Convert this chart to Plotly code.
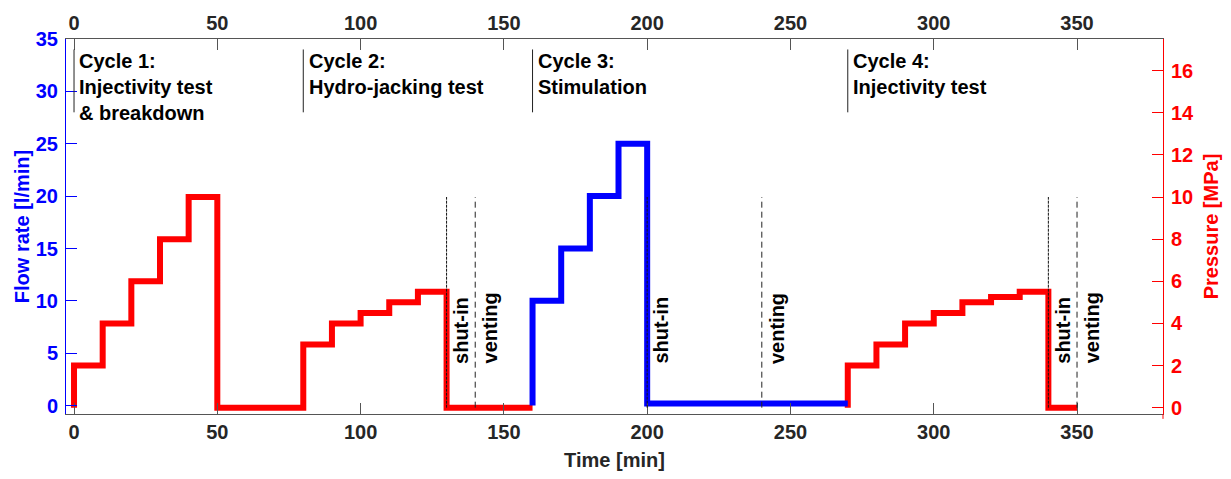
import plotly.graph_objects as go

# ---------------- data ----------------
# Pressure (MPa), cycles 1-2 (step, held until next time)
p1_time = [0, 0, 10, 20, 30, 40, 50, 80, 90, 100, 110, 120, 130, 160]
p1_pres = [0, 2, 4, 6, 8, 10, 0, 3, 4, 4.5, 5, 5.5, 0, 0]
# Flow rate (l/min), cycle 3
f3_time = [160, 160, 170, 180, 190, 200, 270]
f3_flow = [0, 10, 15, 20, 25, 0.2, 0.2]
# Pressure (MPa), cycle 4
p4_time = [270, 270, 280, 290, 300, 310, 320, 330, 340, 350]
p4_pres = [0, 2, 3, 4, 4.5, 5, 5.25, 5.5, 0, 0]

cycle_starts = [0, 80, 160, 270]
cycle_labels = ["Cycle 1:<br>Injectivity test<br>& breakdown",
                "Cycle 2:<br>Hydro-jacking test",
                "Cycle 3:<br>Stimulation",
                "Cycle 4:<br>Injectivity test"]
shutin_times = [130, 200, 340]
venting_times = [140, 240, 350]

x_ticks = [0, 50, 100, 150, 200, 250, 300, 350]
flow_ticks = [0, 5, 10, 15, 20, 25, 30, 35]
pres_ticks = [0, 2, 4, 6, 8, 10, 12, 14, 16]

# ---------------- style ----------------
FONT = "Liberation Sans, Arial, sans-serif"
BLUE = "#0000FF"
RED = "#FF0000"
DARK = "#262626"
AXIS = "#555555"
FS = 20

def f(color, size=FS):
    return dict(family=FONT, size=size, color=color, weight="bold")

fig = go.Figure()

fig.add_trace(go.Scatter(x=p1_time, y=p1_pres, mode="lines", line=dict(color=RED, width=6, shape="hv"),
                         xaxis="x", yaxis="y", showlegend=False, hoverinfo="skip"))
fig.add_trace(go.Scatter(x=p4_time, y=p4_pres, mode="lines", line=dict(color=RED, width=6, shape="hv"),
                         xaxis="x", yaxis="y", showlegend=False, hoverinfo="skip"))
fig.add_trace(go.Scatter(x=f3_time, y=f3_flow, mode="lines", line=dict(color=BLUE, width=6, shape="hv"),
                         xaxis="x", yaxis="y2", showlegend=False, hoverinfo="skip"))
# invisible trace so the top axis is drawn
fig.add_trace(go.Scatter(x=[x_ticks[0]], y=[pres_ticks[0]], mode="markers", marker=dict(opacity=0),
                         xaxis="x2", yaxis="y", showlegend=False, hoverinfo="skip"))

shapes = []
annotations = []
for t, lab in zip(cycle_starts, cycle_labels):
    shapes.append(dict(type="line", xref="x", yref="y2", x0=t, x1=t, y0=28, y1=34,
                       line=dict(color="#222222", width=1)))
    annotations.append(dict(x=t + 1.2, y=34.1, xref="x", yref="y2", text=lab, showarrow=False,
                            xanchor="left", yanchor="top", align="left", font=f("black")))
for t in shutin_times:
    shapes.append(dict(type="line", xref="x", yref="y", x0=t, x1=t, y0=0, y1=10,
                       line=dict(color="#111111", width=1, dash="3px,1px")))
    annotations.append(dict(x=t + 5.0, y=2.0, xref="x", yref="y", text="shut-in", showarrow=False,
                            textangle=-90, xanchor="center", yanchor="bottom", font=f("black")))
for t in venting_times:
    shapes.append(dict(type="line", xref="x", yref="y", x0=t, x1=t, y0=0, y1=10,
                       line=dict(color="#222222", width=1, dash="6px,4px")))
    annotations.append(dict(x=t + 5.3, y=2.0, xref="x", yref="y", text="venting", showarrow=False,
                            textangle=-90, xanchor="center", yanchor="bottom", font=f("black")))
# small extension of the right axis below the plot
shapes.append(dict(type="line", xref="paper", yref="paper", x0=1, x1=1, y0=0, y1=-0.013,
                   line=dict(color=RED, width=1)))

xr = [-2.8, 380]
common_x = dict(range=xr, tickvals=x_ticks, ticks="inside", ticklen=11, tickcolor=AXIS,
                showline=True, linecolor=AXIS, linewidth=1, showgrid=False, zeroline=False,
                tickfont=f(DARK))

fig.update_layout(
    width=1231, height=479,
    margin=dict(l=66, r=68, t=36, b=62),
    paper_bgcolor="white", plot_bgcolor="white",
    xaxis=dict(**common_x, side="bottom", anchor="y",
               title=dict(text="Time [min]", font=f(DARK), standoff=10)),
    xaxis2=dict(**common_x, side="top", overlaying="x", anchor="y"),
    yaxis=dict(range=[-0.3, 17.5], tickvals=pres_ticks, side="right", ticks="inside", ticklen=11,
               tickcolor=RED, showline=True, linecolor=RED, linewidth=1, showgrid=False,
               zeroline=False, tickfont=f(RED), ticklabelstandoff=3,
               title=dict(text="Pressure [MPa]", font=f(RED), standoff=10)),
    yaxis2=dict(range=[-0.8, 35], tickvals=flow_ticks, side="left", overlaying="y", anchor="x",
                ticks="inside", ticklen=11, tickcolor=BLUE, showline=True, linecolor=BLUE,
                linewidth=1, showgrid=False, zeroline=False, tickfont=f(BLUE), ticklabelstandoff=3,
                title=dict(text="Flow rate [l/min]", font=f(BLUE), standoff=0)),
    shapes=shapes, annotations=annotations,
)

fig.write_html("out.html")
